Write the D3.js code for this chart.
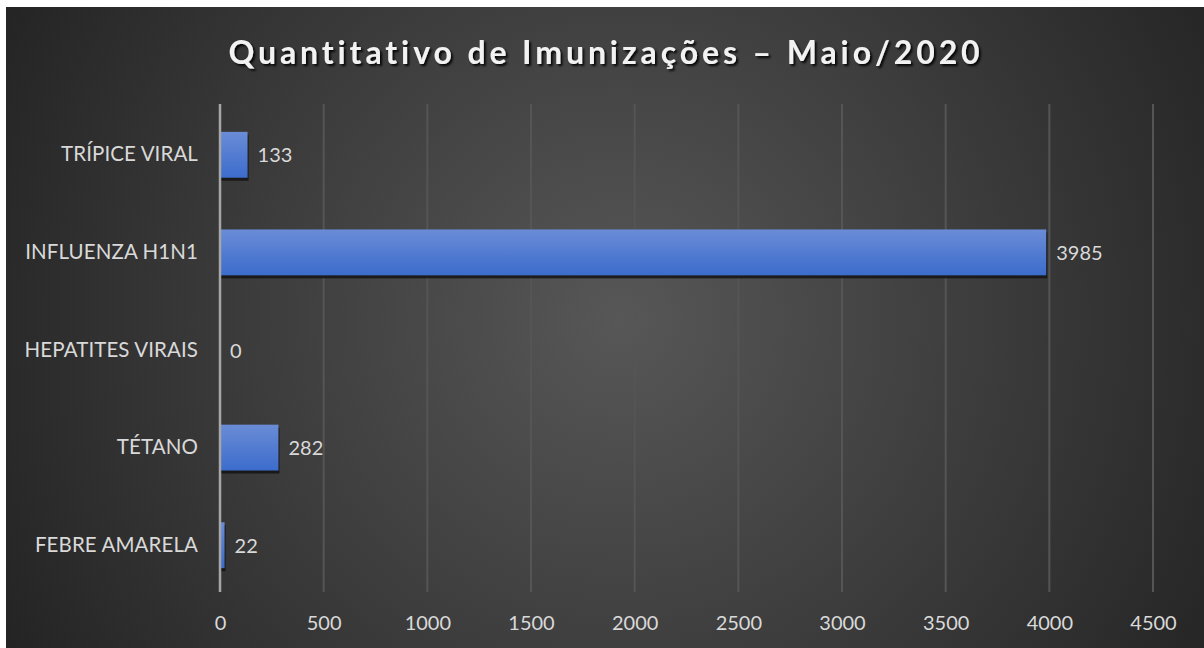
<!DOCTYPE html>
<html><head><meta charset="utf-8">
<script src="https://cdn.jsdelivr.net/npm/d3@7"></script>
<style>
html,body{margin:0;padding:0;background:#fff;}
svg{display:block;}
</style></head>
<body>
<svg id="c" width="1204" height="648"></svg>
<script>
const title = "Quantitativo de Imunizações – Maio/2020";
const categories = ["TRÍPICE VIRAL","INFLUENZA H1N1","HEPATITES VIRAIS","TÉTANO","FEBRE AMARELA"];
const values = [133, 3985, 0, 282, 22];
const ticks = [0,500,1000,1500,2000,2500,3000,3500,4000,4500];

const svg = d3.select("#c");
const defs = svg.append("defs");
const bg = defs.append("radialGradient").attr("id","bg")
  .attr("gradientUnits","userSpaceOnUse").attr("cx",620).attr("cy",320).attr("r",720);
bg.append("stop").attr("offset","0%").attr("stop-color","#575757");
bg.append("stop").attr("offset","100%").attr("stop-color","#222222");
const bar = defs.append("linearGradient").attr("id","bar").attr("x1",0).attr("y1",0).attr("x2",0).attr("y2",1);
bar.append("stop").attr("offset","0%").attr("stop-color","#6a8cd6");
bar.append("stop").attr("offset","100%").attr("stop-color","#3c6ccc");
const sh = defs.append("filter").attr("id","ts").attr("x","-10%").attr("y","-30%").attr("width","120%").attr("height","160%");
sh.append("feDropShadow").attr("dx",2).attr("dy",2).attr("stdDeviation",1.2).attr("flood-color","#000").attr("flood-opacity",0.9);

svg.append("rect").attr("x",6).attr("y",7).attr("width",1198).attr("height",641).attr("fill","url(#bg)");

const font = "Lato, 'Open Sans', sans-serif";
svg.append("text").attr("x",606).attr("y",64).attr("text-anchor","middle")
  .attr("font-family",font).attr("font-weight","bold").attr("font-size",32)
  .attr("letter-spacing",3.9).attr("fill","#f2f2f2").attr("filter","url(#ts)").text(title);

const x = d3.scaleLinear().domain([0,4500]).range([220,1153]);
const y = d3.scaleBand().domain(categories).range([106,594]).paddingInner(0.53).paddingOuter(0.265);

// gridlines
svg.append("g").selectAll("line").data(ticks.slice(1)).join("line")
  .attr("x1",d=>x(d)).attr("x2",d=>x(d)).attr("y1",104).attr("y2",592)
  .attr("stroke","#555555").attr("stroke-width",2);

// bars shadow
svg.append("g").selectAll("rect").data(values).join("rect")
  .attr("x",x(0)+1).attr("y",(d,i)=>y(categories[i])+3)
  .attr("width",d=>Math.max(0,x(d)-x(0))).attr("height",y.bandwidth())
  .attr("fill","#141414").attr("opacity",d=>d>0?0.85:0);
svg.append("g").selectAll("rect").data(values).join("rect")
  .attr("x",x(0)).attr("y",(d,i)=>y(categories[i]))
  .attr("width",d=>x(d)-x(0)).attr("height",y.bandwidth())
  .attr("fill","url(#bar)");

// zero axis
svg.append("line").attr("x1",x(0)).attr("x2",x(0)).attr("y1",104).attr("y2",592)
  .attr("stroke","#a6a6a6").attr("stroke-width",2.5);

// value labels
svg.append("g").selectAll("text").data(values).join("text")
  .attr("x",d=>x(d)+10).attr("y",(d,i)=>y(categories[i])+y.bandwidth()/2)
  .attr("dy","0.38em").attr("font-family",font).attr("font-size",20).attr("fill","#d9d9d9")
  .text(d=>d);

// category labels
const yAxis = d3.axisLeft(y).tickSize(0).tickPadding(22);
const ga = svg.append("g").attr("transform",`translate(${x(0)},0)`).call(yAxis);
ga.select(".domain").remove();
ga.selectAll("text").attr("font-family",font).attr("font-size",20.5).attr("fill","#d9d9d9").attr("letter-spacing",0.1);

// x axis
const xAxis = d3.axisBottom(x).tickValues(ticks).tickSize(0).tickPadding(20).tickFormat(d3.format("d"));
const gx = svg.append("g").attr("transform","translate(0,596)").call(xAxis);
gx.select(".domain").remove();
gx.selectAll("text").attr("font-family",font).attr("font-size",20).attr("fill","#d9d9d9");
</script>
</body></html>
